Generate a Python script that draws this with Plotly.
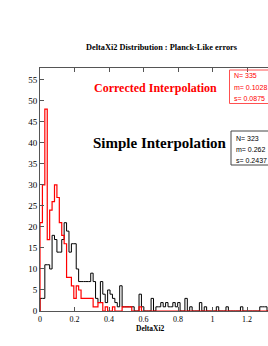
import plotly.graph_objects as go

# ---------------- data ----------------
bin_width = 0.014
corrected_counts = [21, 30, 48, 17, 24, 26, 30, 27, 21, 18, 16, 8, 8, 6, 3, 6, 5, 3, 3, 3,
                    3, 3, 1, 1, 2, 2, 0, 1, 0, 0, 1, 0, 0, 0, 1, 1, 1, 1, 0, 0,
                    0, 1, 0, 0, 0, 0, 0, 0, 0, 0, 0, 0, 0, 0, 0, 0, 0, 0, 0, 0,
                    0, 0, 0, 0, 0, 0, 0, 0, 0, 0, 0, 0, 0, 0, 0, 0, 0, 0, 0, 0,
                    0, 0, 0, 0, 0, 0, 0, 0, 0, 0, 0, 0, 0, 0, 0]
simple_counts = [3, 3, 11, 11, 10, 18, 17, 14, 14, 17, 21, 19, 14, 16, 16, 10, 7, 7, 7, 7,
                 7, 9, 7, 3, 2, 7, 4, 2, 5, 4, 3, 2, 1, 6, 1, 1, 1, 1, 1, 0,
                 0, 4, 1, 0, 0, 0, 3, 0, 1, 1, 2, 1, 2, 1, 1, 2, 1, 2, 0, 0,
                 3, 0, 1, 0, 0, 0, 2, 0, 1, 0, 0, 0, 0, 1, 0, 0, 0, 1, 0, 0,
                 0, 0, 0, 1, 0, 0, 0, 0, 0, 0, 0, 1, 1, 1, 0]
corrected_stats = ["N= 335", "m= 0.1028", "s= 0.0875"]
simple_stats = ["N= 323", "m= 0.262", "s= 0.2437"]
x_tick_vals = [0, 0.2, 0.4, 0.6, 0.8, 1.0, 1.2]
x_tick_text = ["0", "0.2", "0.4", "0.6", "0.8", "1", "1.2"]
y_tick_vals = [0, 5, 10, 15, 20, 25, 30, 35, 40, 45, 50, 55]

# ---------------- layout geometry ----------------
W, H = 268, 346
ML, MR, MT, MB = 40, 0, 68, 35
PW, PH = W - ML - MR, H - MT - MB


def px_x(px):
    return (px - ML) / PW


def px_y(py):
    return (H - MB - py) / PH


def step_xy(counts):
    xs = [0.0]
    ys = [0]
    for i, c in enumerate(counts):
        xs.append(i * bin_width)
        ys.append(c)
    xs.append(len(counts) * bin_width)
    ys.append(counts[-1])
    return xs, ys


serif = "Liberation Serif, Times New Roman, Times, DejaVu Serif, serif"
sans = "Liberation Sans, Arial, Helvetica, sans-serif"

fig = go.Figure()
sx, sy = step_xy(simple_counts)
fig.add_trace(go.Scatter(x=sx, y=sy, mode="lines", line=dict(color="black", width=1, shape="hv"),
                         hoverinfo="skip", showlegend=False))
cx, cy = step_xy(corrected_counts)
fig.add_trace(go.Scatter(x=cx, y=cy, mode="lines", line=dict(color="#ff0000", width=1.2, shape="hv"),
                         hoverinfo="skip", showlegend=False))

annotations = [
    dict(text="<b>DeltaXi2 Distribution : Planck-Like errors</b>", x=px_x(162), y=px_y(48),
         font=dict(family=serif, size=8.3, color="black")),
    dict(text="<b>DeltaXi2</b>", x=px_x(150), y=px_y(328),
         font=dict(family=serif, size=7.5, color="black")),
    dict(text="<b>Corrected Interpolation</b>", x=px_x(155), y=px_y(88),
         font=dict(family=serif, size=12, color="#ff0000")),
    dict(text="<b>Simple Interpolation</b>", x=px_x(160), y=px_y(143),
         font=dict(family=serif, size=15, color="black")),
]
for a in annotations:
    a.update(xref="paper", yref="paper", showarrow=False, xanchor="center", yanchor="middle")

for txt, py in zip(corrected_stats, [76, 87.5, 98.5]):
    annotations.append(dict(text=txt, x=px_x(232), y=px_y(py), xref="paper", yref="paper",
                            showarrow=False, xanchor="left", yanchor="middle",
                            font=dict(family=sans, size=7, color="#ff0000")))
for txt, py in zip(simple_stats, [138.5, 149.5, 160]):
    annotations.append(dict(text=txt, x=px_x(233.5), y=px_y(py), xref="paper", yref="paper",
                            showarrow=False, xanchor="left", yanchor="middle",
                            font=dict(family=sans, size=7, color="black")))

shapes = [
    dict(type="rect", xref="paper", yref="paper", x0=px_x(229.5), x1=px_x(300),
         y0=px_y(103.5), y1=px_y(70), line=dict(color="#ff5050", width=1)),
    dict(type="rect", xref="paper", yref="paper", x0=px_x(231), x1=px_x(300),
         y0=px_y(165), y1=px_y(131), line=dict(color="#444444", width=1)),
]

fig.update_layout(
    width=W, height=H,
    margin=dict(l=ML, r=MR, t=MT, b=MB, autoexpand=False),
    paper_bgcolor="white", plot_bgcolor="white",
    annotations=annotations, shapes=shapes,
    xaxis=dict(range=[0, PW / 172.5], tickvals=x_tick_vals, ticktext=x_tick_text,
               showgrid=False, zeroline=False, showline=True, linecolor="#555555", linewidth=1,
               mirror="ticks", ticks="inside", ticklen=4, tickcolor="#555555", automargin=False,
               tickfont=dict(family=serif, size=8, color="black"), tickangle=0),
    yaxis=dict(range=[0, 57.8], tickvals=y_tick_vals, automargin=False,
               showgrid=False, zeroline=False, showline=True, linecolor="#555555", linewidth=1,
               mirror=False, ticks="inside", ticklen=4, tickcolor="#555555",
               tickfont=dict(family=serif, size=9, color="black")),
)
fig.update_xaxes(tickprefix="<b>", ticksuffix="</b>")
fig.update_yaxes(tickprefix="<b>", ticksuffix="</b>")

fig.write_html("out.html", config={"displayModeBar": False},
               post_script="document.body.style.margin='0';document.body.style.overflow='hidden';")
